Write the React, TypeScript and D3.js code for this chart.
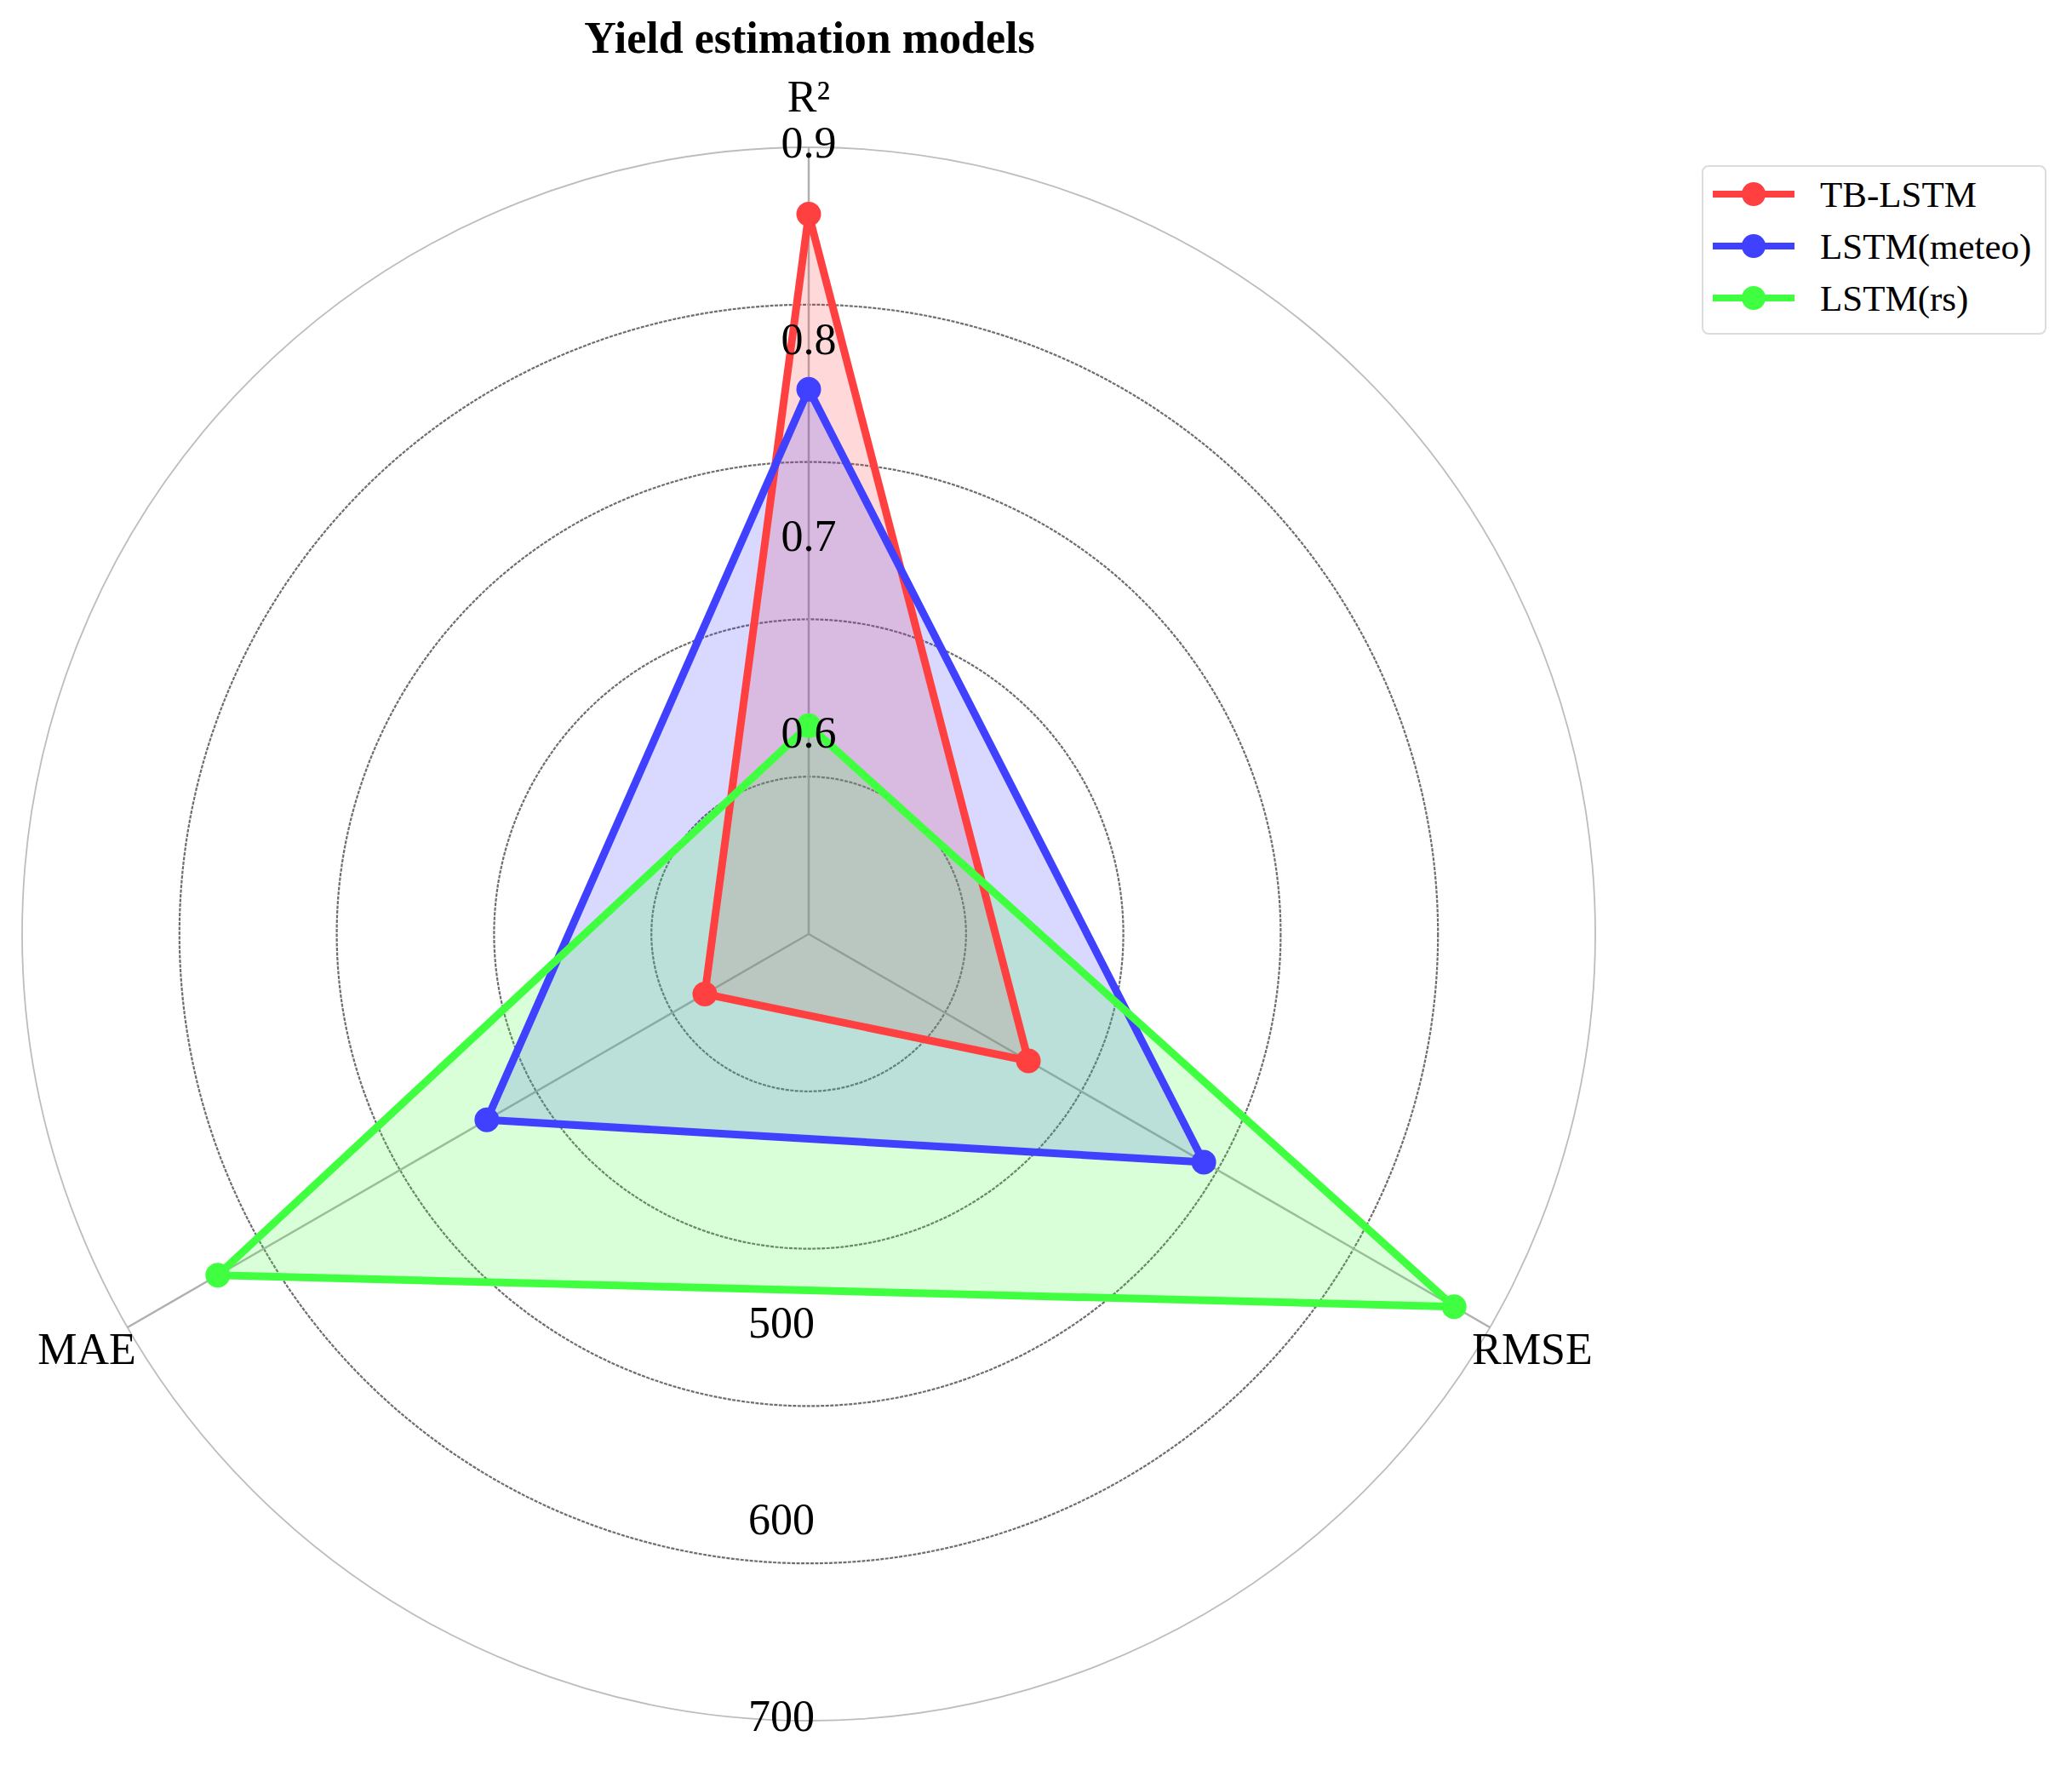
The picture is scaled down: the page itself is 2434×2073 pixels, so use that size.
import * as d3 from 'd3';

// metrics on the three spokes, clockwise from top
const axes = ['R²', 'RMSE', 'MAE'];
const models = ['TB-LSTM', 'LSTM(meteo)', 'LSTM(rs)'];
const colors = ['#ff4040', '#4040ff', '#40ff40'];

const r2Values = [0.866, 0.777, 0.606];
const rmseValues = [429, 532, 679];
const maeValues = [361, 489, 647];

const r2Ticks = [0.6, 0.7, 0.8, 0.9];
const errTicks = [500, 600, 700];

const W = 2434;
const H = 2073;
const cx = 950;
const cy = 1097;
const R = 924;
const font = '"Liberation Serif", "Times New Roman", serif';

export default function App() {
  const rR2 = d3.scaleLinear().domain([0.5, 0.9]).range([0, R]);
  const rErr = d3.scaleLinear().domain([300, 700]).range([0, R]);
  const angle = d3.scalePoint<string>().domain(axes).range([0, (2 * Math.PI * 2) / 3]);

  const pt = (a: number, r: number): [number, number] => [cx + r * Math.sin(a), cy - r * Math.cos(a)];

  const series = models.map((name, i) => ({
    name,
    color: colors[i],
    radii: [rR2(r2Values[i]), rErr(rmseValues[i]), rErr(maeValues[i])],
  }));

  const line = d3
    .lineRadial<number>()
    .angle((_, i) => angle(axes[i]) ?? 0)
    .radius((d) => d)
    .curve(d3.curveLinearClosed);

  const rings = d3.range(1, 6).map((i) => (R * i) / 5);

  const maeEnd = pt(angle('MAE') ?? 0, R);
  const rmseEnd = pt(angle('RMSE') ?? 0, R);

  return (
    <svg
      width={W}
      height={H}
      style={{ position: 'absolute', left: 0, top: 0, background: '#fff' }}
      fontFamily={font}
    >
      <text x={951} y={62} textAnchor="middle" fontSize={52} fontWeight="bold">
        Yield estimation models
      </text>

      {/* grid rings */}
      {rings.map((r, i) => (
        <circle
          key={i}
          cx={cx}
          cy={cy}
          r={r}
          fill="none"
          stroke={i === rings.length - 1 ? '#bdbdbd' : '#6e6e6e'}
          strokeWidth={i === rings.length - 1 ? 1.8 : 2.2}
          strokeDasharray={i === rings.length - 1 ? undefined : '4 1.5'}
        />
      ))}

      {/* spokes */}
      {axes.map((a) => {
        const [x, y] = pt(angle(a) ?? 0, R);
        return <line key={a} x1={cx} y1={cy} x2={x} y2={y} stroke="#b0b0b0" strokeWidth={2.5} />;
      })}

      {/* polygons: fills first, then outlines and markers on top */}
      <g transform={`translate(${cx},${cy})`}>
        {series.map((s) => (
          <path key={s.name + 'f'} d={line(s.radii) ?? ''} fill={s.color} fillOpacity={0.2} stroke="none" />
        ))}
        {series.map((s) => (
          <path
            key={s.name + 'l'}
            d={line(s.radii) ?? ''}
            fill="none"
            stroke={s.color}
            strokeWidth={9}
            strokeLinejoin="round"
          />
        ))}
        {series.map((s) =>
          s.radii.map((r, i) => {
            const a = angle(axes[i]) ?? 0;
            return (
              <circle key={s.name + i} cx={r * Math.sin(a)} cy={-r * Math.cos(a)} r={14.5} fill={s.color} />
            );
          })
        )}
      </g>

      {/* tick labels */}
      {r2Ticks.map((t) => (
        <text key={t} x={cx} y={cy - rR2(t) - 6} textAnchor="middle" dominantBaseline="central" fontSize={52}>
          {t.toFixed(1)}
        </text>
      ))}
      {errTicks.map((t) => (
        <text key={t} x={cx - 32} y={cy + rErr(t) - 6} textAnchor="middle" dominantBaseline="central" fontSize={52}>
          {t}
        </text>
      ))}

      {/* axis labels */}
      <text x={cx} y={131} textAnchor="middle" fontSize={52}>
        R²
      </text>
      <text x={maeEnd[0] + 10} y={maeEnd[1] + 43} textAnchor="end" fontSize={52}>
        MAE
      </text>
      <text x={rmseEnd[0] - 21} y={rmseEnd[1] + 43} textAnchor="start" fontSize={52}>
        RMSE
      </text>

      {/* legend */}
      <g transform="translate(2000,195)">
        <rect width={403} height={197} rx={7} fill="#fff" stroke="#dcdcdc" strokeWidth={2} />
        {series.map((s, i) => (
          <g key={s.name} transform={`translate(0,${33 + i * 61})`}>
            <line x1={12} x2={108} stroke={s.color} strokeWidth={8} />
            <circle cx={60} r={14} fill={s.color} />
            <text x={138} y={15} fontSize={43}>
              {s.name}
            </text>
          </g>
        ))}
      </g>
    </svg>
  );
}
